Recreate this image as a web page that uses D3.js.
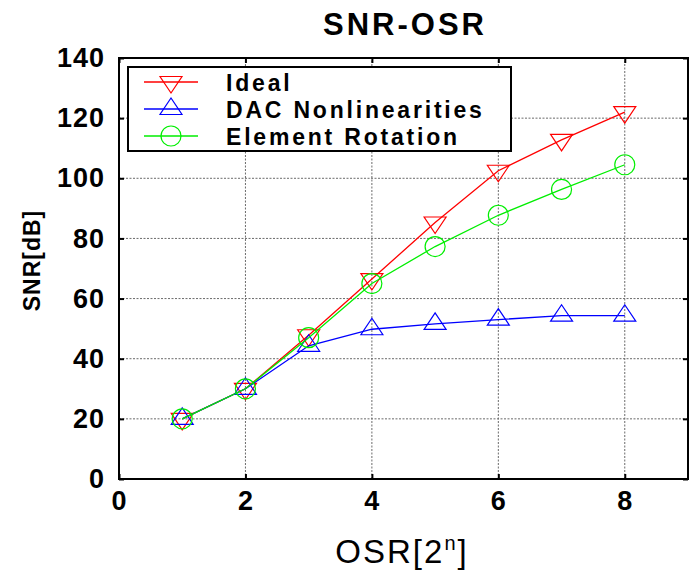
<!DOCTYPE html>
<html>
<head>
<meta charset="utf-8">
<script src="https://cdn.jsdelivr.net/npm/d3@7"></script>
<style>
  body { margin: 0; background: #fff; }
  text { font-family: "Liberation Sans", Arial, sans-serif; }
</style>
</head>
<body>
<svg id="chart" width="693" height="570"></svg>
<script>
// OSR exponent n (OSR = 2^n)
const osr = [1, 2, 3, 4, 5, 6, 7, 8];
// SNR in dB for each case
const snrIdeal = [20, 30, 47.8, 66.5, 85.3, 102.5, 112.8, 122];
const snrDac = [20, 30, 44.3, 49.8, 51.6, 53, 54.3, 54.3];
const snrRotation = [20, 30, 47, 65, 77.3, 87.7, 96.3, 104.5];

const seriesNames = ["Ideal", "DAC Nonlinearities", "Element Rotation"];
const seriesColors = ["#ff0000", "#0000ff", "#00ee00"];
const seriesMarkers = ["down", "up", "circle"];
const seriesValues = [snrIdeal, snrDac, snrRotation];

const xTicks = [0, 2, 4, 6, 8];
const yTicks = [0, 20, 40, 60, 80, 100, 120, 140];

const svg = d3.select("#chart");
const margin = { left: 119, right: 5, top: 58, bottom: 91 };
const width = 693, height = 570;

const x = d3.scaleLinear().domain([0, 9]).range([margin.left, width - margin.right]);
const y = d3.scaleLinear().domain([0, 140]).range([height - margin.bottom, margin.top]);

// grid
const grid = svg.append("g")
  .attr("stroke", "#6a6a6a")
  .attr("stroke-width", 1)
  .attr("stroke-dasharray", "2,1.5");
grid.selectAll(".gx").data(xTicks.slice(1)).join("line")
  .attr("x1", d => x(d)).attr("x2", d => x(d))
  .attr("y1", y(0)).attr("y2", y(140));
grid.selectAll(".gy").data(yTicks.slice(1, -1)).join("line")
  .attr("x1", x(0)).attr("x2", x(9))
  .attr("y1", d => y(d)).attr("y2", d => y(d));

// axes with inward ticks
const xAxis = svg.append("g")
  .attr("transform", `translate(0,${y(0)})`)
  .call(d3.axisBottom(x).tickValues(xTicks).tickSize(-5).tickPadding(12));
const yAxis = svg.append("g")
  .attr("transform", `translate(${x(0)},0)`)
  .call(d3.axisLeft(y).tickValues(yTicks).tickSize(-5).tickPadding(14));
svg.append("g")
  .attr("transform", `translate(0,${y(140)})`)
  .call(d3.axisTop(x).tickValues(xTicks).tickSize(-5).tickFormat(""));
svg.append("g")
  .attr("transform", `translate(${x(9)},0)`)
  .call(d3.axisRight(y).tickValues(yTicks).tickSize(-5).tickFormat(""));

svg.selectAll(".domain").remove();
svg.selectAll(".tick line").attr("stroke", "#000").attr("stroke-width", 2);
svg.selectAll(".tick text")
  .attr("fill", "#000")
  .style("font-size", "27px")
  .style("font-weight", "bold")
  .style("letter-spacing", "1px");
xAxis.selectAll(".tick text").attr("dy", "0.71em");

// axes box
svg.append("rect")
  .attr("x", x(0)).attr("y", y(140))
  .attr("width", x(9) - x(0)).attr("height", y(0) - y(140))
  .attr("fill", "none").attr("stroke", "#000").attr("stroke-width", 2);

function drawMarker(g, type, cx, cy, color) {
  if (type === "circle") {
    g.append("circle").attr("cx", cx).attr("cy", cy).attr("r", 10)
      .attr("fill", "none").attr("stroke", color).attr("stroke-width", 1.2);
  } else {
    const s = type === "down" ? 1 : -1;
    const pts = [[cx - 11, cy - 5.5 * s], [cx + 11, cy - 5.5 * s], [cx, cy + 11 * s]];
    g.append("path").attr("d", "M" + pts.join("L") + "Z")
      .attr("fill", "none").attr("stroke", color).attr("stroke-width", 1.2);
  }
}

const line = d3.line().x(d => x(d[0])).y(d => y(d[1]));

seriesValues.forEach((vals, i) => {
  const pts = osr.map((o, j) => [o, vals[j]]);
  const g = svg.append("g");
  g.append("path").datum(pts)
    .attr("d", line)
    .attr("fill", "none")
    .attr("stroke", seriesColors[i])
    .attr("stroke-width", 1.3);
  pts.forEach(p => drawMarker(g, seriesMarkers[i], x(p[0]), y(p[1]), seriesColors[i]));
});

// legend
const leg = svg.append("g");
leg.append("rect")
  .attr("x", 128).attr("y", 67).attr("width", 383).attr("height", 84)
  .attr("fill", "#fff").attr("stroke", "#000").attr("stroke-width", 2);
const rowY = [82, 109, 136];
seriesNames.forEach((name, i) => {
  leg.append("line")
    .attr("x1", 144).attr("x2", 198)
    .attr("y1", rowY[i]).attr("y2", rowY[i])
    .attr("stroke", seriesColors[i]).attr("stroke-width", 1.3);
  drawMarker(leg, seriesMarkers[i], 171, rowY[i], seriesColors[i]);
  leg.append("text")
    .attr("x", 226).attr("y", rowY[i] + 9)
    .style("font-size", "23px")
    .style("font-weight", "bold")
    .style("letter-spacing", "2.8px")
    .text(name);
});

// title and axis labels
svg.append("text")
  .attr("x", 405).attr("y", 35)
  .attr("text-anchor", "middle")
  .style("font-size", "31px")
  .style("font-weight", "bold")
  .style("letter-spacing", "3px")
  .text("SNR-OSR");

const xl = svg.append("text")
  .attr("x", 402).attr("y", 563)
  .attr("text-anchor", "middle")
  .style("font-size", "33px")
  .style("letter-spacing", "2px");
xl.append("tspan").text("OSR[2");
xl.append("tspan").attr("dy", -13).style("font-size", "20px").text("n");
xl.append("tspan").attr("dy", 13).text("]");

svg.append("text")
  .attr("transform", `translate(40,${(y(0) + y(140)) / 2 - 8}) rotate(-90)`)
  .attr("text-anchor", "middle")
  .style("font-size", "23px")
  .style("font-weight", "bold")
  .style("letter-spacing", "1px")
  .text("SNR[dB]");
</script>
</body>
</html>
